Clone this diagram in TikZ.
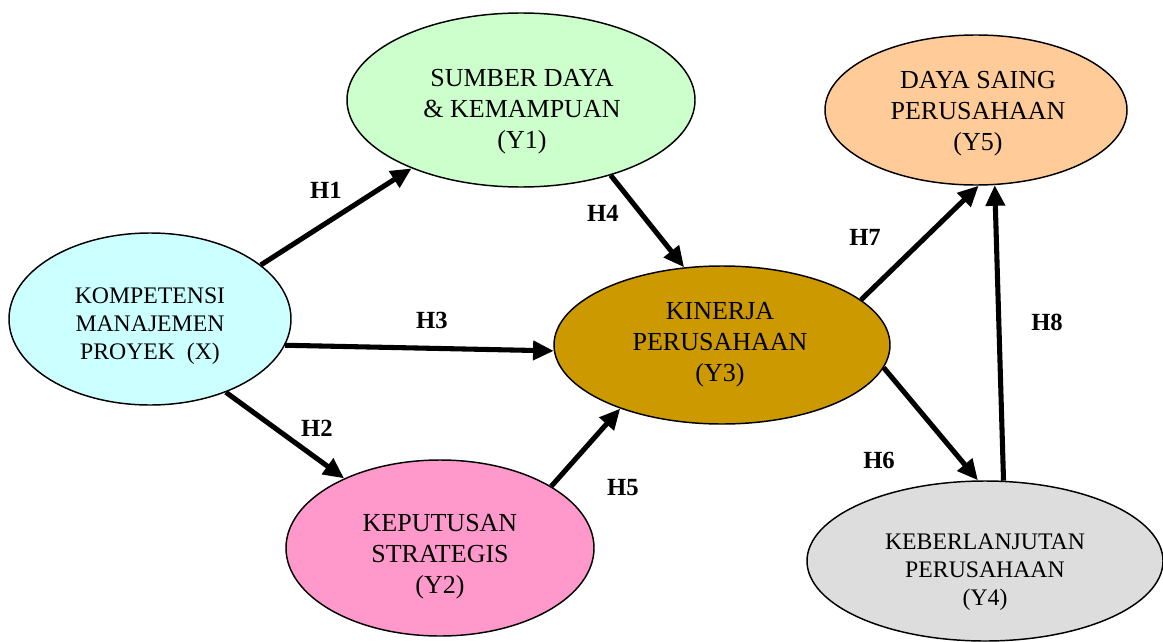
\documentclass[tikz,border=0pt]{standalone}
\usepackage{fontspec}
\setmainfont{Liberation Serif}
\usetikzlibrary{shapes.geometric,arrows.meta}
\definecolor{cX}{HTML}{CCFFFF}
\definecolor{cYone}{HTML}{CCFFCC}
\definecolor{cYfive}{HTML}{FFCC99}
\definecolor{cYthree}{HTML}{CC9900}
\definecolor{cYtwo}{HTML}{FF99CC}
\definecolor{cYfour}{HTML}{DDDDDD}
\tikzset{
  var/.style={ellipse, draw=black, line width=1.1pt, inner sep=0pt},
  bigtxt/.style={align=center, inner sep=0pt, font=\fontsize{19.5}{23.25}\selectfont},
  smalltxt/.style={align=center, inner sep=0pt, font=\fontsize{17.8}{20.8}\selectfont},
  hyp/.style={inner sep=0pt, font=\fontsize{18.5}{20}\selectfont\bfseries},
  path/.style={line width=3.8pt, -{Triangle[length=15.5pt,width=14pt]}}
}
\begin{document}
\begin{tikzpicture}[x=0.75pt,y=-0.75pt]
\clip (0,0) rectangle (1163,642);
\fill[white] (0,0) rectangle (1163,642);

% constructs
\node[var, fill=cX, minimum width=211.5pt, minimum height=129pt] (X) at (150,319) {};
\node[var, fill=cYone, minimum width=261pt, minimum height=130.5pt] (Y1) at (521,100) {};
\node[var, fill=cYfive, minimum width=226.5pt, minimum height=112.5pt] (Y5) at (976,110) {};
\node[var, fill=cYthree, minimum width=252pt, minimum height=118.5pt] (Y3) at (722,345) {};
\node[var, fill=cYtwo, minimum width=231pt, minimum height=132pt] (Y2) at (440,548) {};
\node[var, fill=cYfour, minimum width=267pt, minimum height=120pt] (Y4) at (985,561) {};

% construct labels
\node[smalltxt] (Xt) at (150,326) {KOMPETENSI\\MANAJEMEN\\PROYEK~~(X)};
\node[bigtxt] (Y1t) at (522,112) {SUMBER DAYA\\\&~KEMAMPUAN\\(Y1)};
\node[bigtxt] (Y5t) at (978,114) {DAYA SAING\\PERUSAHAAN\\(Y5)};
\node[bigtxt] (Y3t) at (720,345) {KINERJA\\PERUSAHAAN\\(Y3)};
\node[bigtxt] (Y2t) at (440,557) {KEPUTUSAN\\STRATEGIS\\(Y2)};
\node[smalltxt] (Y4t) at (985,572) {KEBERLANJUTAN\\PERUSAHAAN\\(Y4)};

% hypothesised paths
\draw[path] (X.26.6) -- (Y1.212.3);
\draw[path] (X.316.4) -- (Y2.144.6);
\draw[path] (X.349.3) -- (Y3.182);
\draw[path] (Y1.320.9) -- (Y3.116.3);
\draw[path] (Y2.29.9) -- (Y3.212.8);
\draw[path] (Y3.352.9) -- (Y4.95.1);
\draw[path] (Y3.18.4) -- (Y5.272.2);
\draw[path] (Y4.77.1) -- (Y5.284);

% path labels
\node[hyp] (h1) at (326,190) {H1};
\node[hyp] (h2) at (317,428) {H2};
\node[hyp] (h3) at (432,320) {H3};
\node[hyp] (h4) at (603,213) {H4};
\node[hyp] (h5) at (623,488) {H5};
\node[hyp] (h6) at (879,460) {H6};
\node[hyp] (h7) at (865,237) {H7};
\node[hyp] (h8) at (1047,322) {H8};
\end{tikzpicture}
\end{document}
